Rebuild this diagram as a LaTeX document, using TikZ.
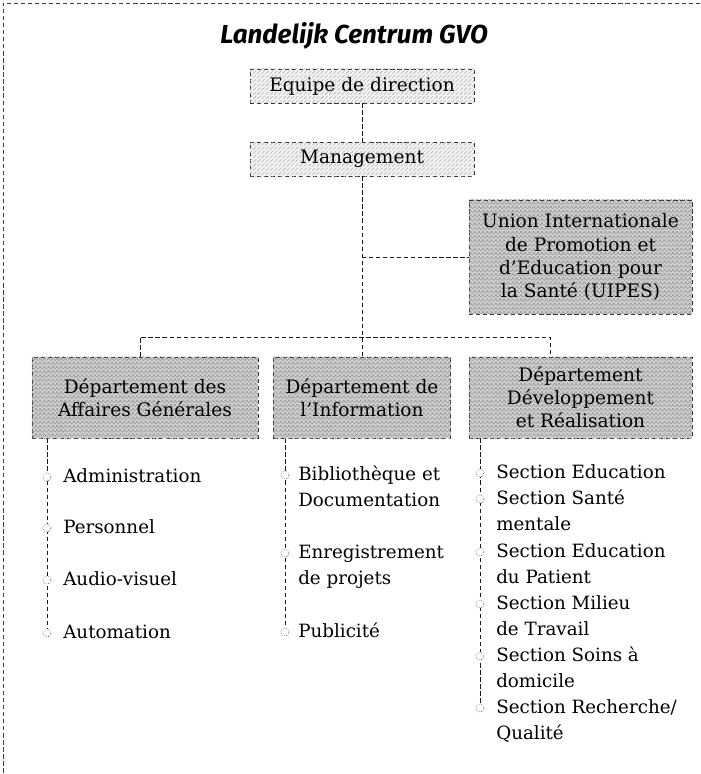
\documentclass[tikz,border=0pt]{standalone}
\usepackage{fontspec}
\setmainfont{DejaVu Serif}
\newfontfamily\titlefont{Fira Sans}
\usetikzlibrary{patterns,backgrounds}

% two stacked lines, baseline on the first one
\newcommand\sectlines[2]{\vtop{\hbox{#1}\hbox{#2}}}

\begin{document}
\begin{tikzpicture}[x=0.025cm,y=-0.025cm,
    toplvl/.style={draw=black!80,densely dashed,fill=gray!10,postaction={pattern=north east lines,pattern color=gray!60},rectangle,minimum width=5.6cm,minimum height=0.85cm,font=\fontsize{13.2}{16.5}\selectfont},
    deptbox/.style={draw=black!80,densely dashed,fill=gray!38,postaction={pattern=crosshatch,pattern color=gray!80},rectangle,align=center,minimum height=2.025cm,font=\fontsize{13.2}{16.5}\selectfont},
    link/.style={black!90,densely dashed,line width=0.6pt},
    itemdot/.style={circle,draw=black!85,densely dotted,fill=white,inner sep=0pt,minimum size=0.2cm},
    itemtext/.style={anchor=base west,inner sep=0pt,font=\fontsize{13}{18.5}\selectfont}]
    \useasboundingbox (0,0) rectangle (700,774);

    % Frame (top and left edge only)
    \draw[black!75,densely dashed,line width=0.6pt] (700,3) -- (3,3) -- (3,774);

    % Title
    \node[anchor=base,font=\titlefont\bfseries\itshape\fontsize{18.5}{22}\selectfont] (title) at (354,44) {Landelijk Centrum GVO};

    % Direction and management
    \node[toplvl] (equipe) at (362,86) {Equipe de direction};
    \node[toplvl] (mgmt) at (362,159) {Management};

    % UIPES
    \node[deptbox,minimum width=5.575cm,minimum height=2.85cm] (uipes) at (580.5,257) {Union Internationale\\de Promotion et\\d'Education pour\\la Santé (UIPES)};

    % Departments
    \node[deptbox,minimum width=5.65cm] (ag) at (145,397.5) {Département des\\Affaires Générales};
    \node[deptbox,minimum width=4.425cm] (info) at (362,397.5) {Département de\\l'Information};
    \node[deptbox,minimum width=5.575cm] (ddr) at (580.5,397.5) {Département\\Développement\\et Réalisation};

    % Connectors
    \coordinate (busL) at (140,337);
    \coordinate (busR) at (550,337);
    \draw[link] (equipe) -- (mgmt);
    \draw[link] (mgmt) -- (info);
    \draw[link] (mgmt.south |- uipes.west) -- (uipes.west);
    \draw[link] (ag.north -| busL) -- (busL) -- (busR) -- (busR |- ddr.north);

    % Affaires Generales sections
    \node[itemdot] (agd1) at (47,477) {};
    \node[itemdot] (agd2) at (47,528) {};
    \node[itemdot] (agd3) at (47,580) {};
    \node[itemdot] (agd4) at (47,633) {};
    \node[itemtext] (ag1) at (63,482) {Administration};
    \node[itemtext] (ag2) at (63,533) {Personnel};
    \node[itemtext] (ag3) at (63,585) {Audio-visuel};
    \node[itemtext] (ag4) at (63,638) {Automation};

    % Information sections
    \node[itemdot] (infd1) at (285,475) {};
    \node[itemdot] (infd2) at (285,553) {};
    \node[itemdot] (infd3) at (285,632) {};
    \node[itemtext] (inf1) at (298,480) {\sectlines{Bibliothèque et}{Documentation}};
    \node[itemtext] (inf2) at (298,558) {\sectlines{Enregistrement}{de projets}};
    \node[itemtext] (inf3) at (298,637) {Publicité};

    % Developpement et Realisation sections
    \node[itemdot] (ddrd1) at (480,473) {};
    \node[itemdot] (ddrd2) at (480,499) {};
    \node[itemdot] (ddrd3) at (480,552) {};
    \node[itemdot] (ddrd4) at (480,604) {};
    \node[itemdot] (ddrd5) at (480,656) {};
    \node[itemdot] (ddrd6) at (480,708) {};
    \node[itemtext] (ddr1) at (496,478) {Section Education};
    \node[itemtext] (ddr2) at (496,504) {\sectlines{Section Santé}{mentale}};
    \node[itemtext] (ddr3) at (496,557) {\sectlines{Section Education}{du Patient}};
    \node[itemtext] (ddr4) at (496,609) {\sectlines{Section Milieu}{de Travail}};
    \node[itemtext] (ddr5) at (496,661) {\sectlines{Section Soins à}{domicile}};
    \node[itemtext] (ddr6) at (496,713) {\sectlines{Section Recherche/}{Qualité}};

    % Section lines behind the dots
    \begin{scope}[on background layer]
        \draw[link] (ag.south -| agd1) -- (agd4);
        \draw[link] (info.south -| infd1) -- (infd3);
        \draw[link] (ddr.south -| ddrd1) -- (ddrd6);
    \end{scope}
\end{tikzpicture}
\end{document}
